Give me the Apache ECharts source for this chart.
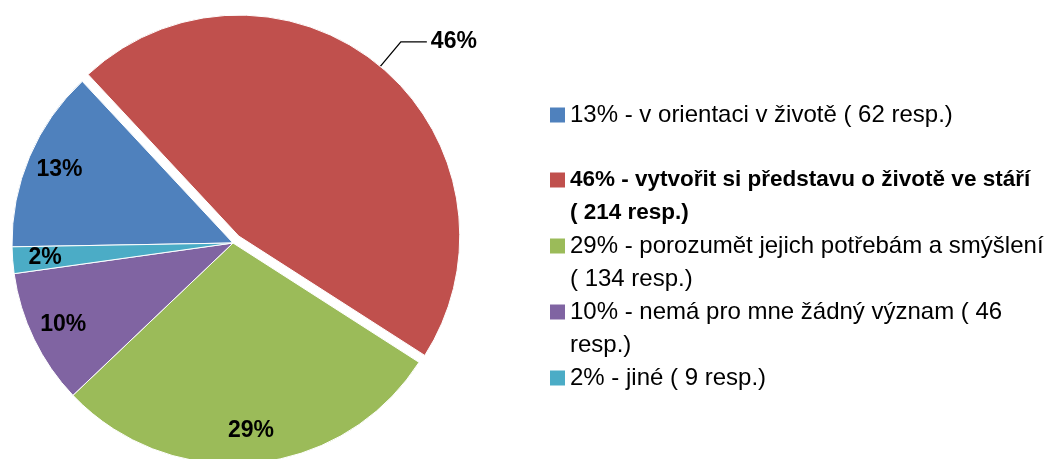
<!DOCTYPE html>
<html>
<head>
<meta charset="utf-8">
<script src="https://cdn.jsdelivr.net/npm/echarts@6/dist/echarts.min.js"></script>
<style>
  html, body { margin: 0; padding: 0; background: #fff; }
  #main { width: 1054px; height: 459px; }
</style>
</head>
<body>
<div id="main"></div>
<script>
// data
var shares = ['13%', '46%', '29%', '10%', '2%'];
var respondents = [62, 214, 134, 46, 9];
var legendLabels = [
    '13% - v orientaci v životě ( 62 resp.)',
    '46% - vytvořit si představu o životě ve stáří\n( 214 resp.)',
    '29% - porozumět jejich potřebám a smýšlení\n( 134 resp.)',
    '10% - nemá pro mne žádný význam ( 46\nresp.)',
    '2% - jiné ( 9 resp.)'
];
var colors = ['#4F81BD', '#C0504D', '#9BBB59', '#8064A2', '#4BACC6'];

var font = 'Liberation Sans';
var legendCenters = [115, 180, 246, 312, 378];
var lineH = 33;

var myChart = echarts.init(document.getElementById('main'));

var pieData = legendLabels.map(function (name, i) {
    return {
        name: name,
        value: respondents[i],
        selected: i === 1,
        label: { show: i === 1 },
        labelLine: { show: i === 1 }
    };
});

var labelData = legendLabels.map(function (name, i) {
    return {
        name: name,
        value: respondents[i],
        label: { show: i !== 1 }
    };
});

// one legend per entry, so a wrapped entry keeps its marker on the first line
var legends = legendLabels.map(function (name, i) {
    var lines = name.split('\n').length;
    var boxH = lines > 1 ? (lines * 2 - 1) * lineH : lineH;
    return {
        left: 550,
        top: legendCenters[i] - boxH / 2,
        orient: 'vertical',
        padding: 0,
        icon: 'rect',
        itemWidth: 15,
        itemHeight: 15,
        itemStyle: { borderWidth: 0 },
        selectedMode: false,
        data: [name],
        formatter: function (n) {
            if (n.indexOf('\n') > -1) {
                // empty line on top so the icon sits on line one
                return '\n' + n;
            }
            return n;
        },
        textStyle: {
            fontFamily: font,
            fontSize: i === 1 ? 22.5 : 24,
            lineHeight: lineH,
            color: '#000',
            fontWeight: i === 1 ? 'bold' : 'normal'
        }
    };
});

var option = {
    backgroundColor: '#fff',
    color: colors,
    animation: false,
    legend: legends,
    series: [
        {
            name: 'odpovedi',
            type: 'pie',
            center: [233, 243],
            radius: 221,
            startAngle: 181,
            clockwise: true,
            selectedMode: 'single',
            selectedOffset: 9,
            avoidLabelOverlap: false,
            itemStyle: { borderColor: '#fff', borderWidth: 1 },
            emphasis: { disabled: true },
            label: {
                position: 'outside',
                formatter: function (p) { return shares[p.dataIndex]; },
                fontFamily: font,
                fontSize: 23,
                fontWeight: 'bold',
                color: '#000',
                distanceToLabelLine: 4,
                padding: [0, 0, 14, 0]
            },
            labelLine: {
                length: 32,
                length2: 26,
                lineStyle: { color: '#000', width: 1.3 }
            },
            data: pieData
        },
        {
            name: 'popisky',
            type: 'pie',
            center: [233, 243],
            radius: [150, 221],
            startAngle: 181,
            clockwise: true,
            silent: true,
            avoidLabelOverlap: false,
            itemStyle: { color: 'rgba(0,0,0,0)' },
            label: {
                position: 'inside',
                formatter: function (p) { return shares[p.dataIndex]; },
                fontFamily: font,
                fontSize: 23,
                fontWeight: 'bold',
                color: '#000'
            },
            labelLine: { show: false },
            data: labelData
        }
    ]
};
myChart.setOption(option);
</script>
</body>
</html>
